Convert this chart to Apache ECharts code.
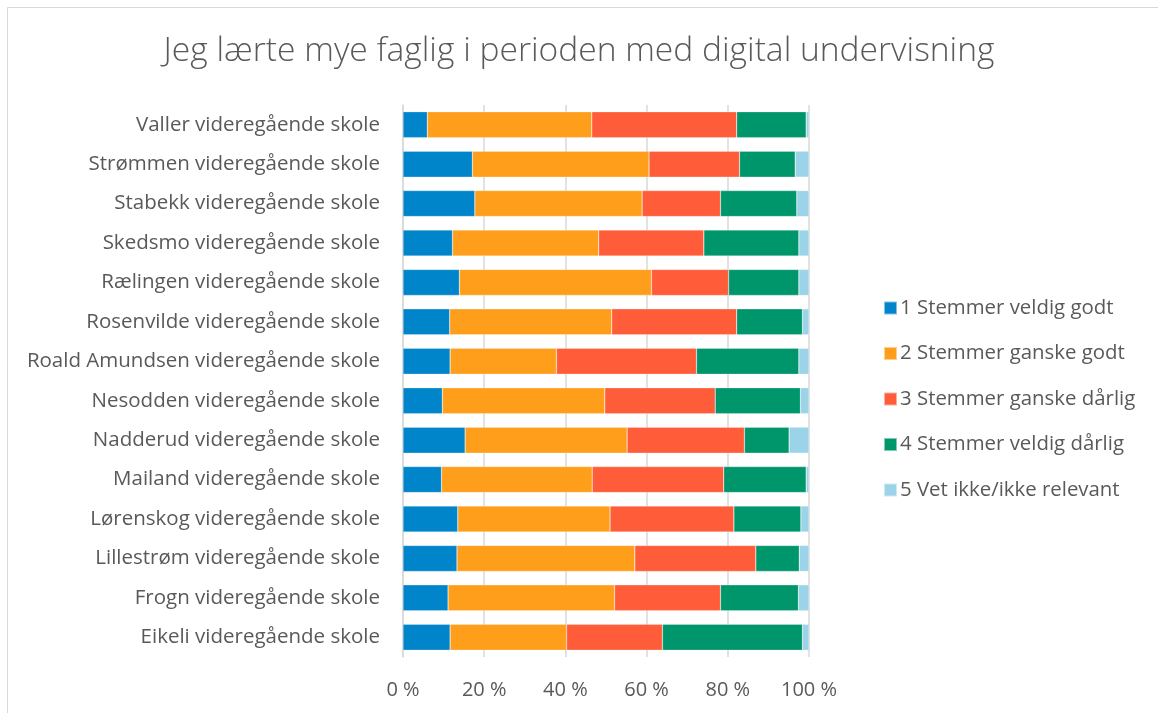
<!DOCTYPE html>
<html>
<head>
<meta charset="utf-8">
<script src="https://cdn.jsdelivr.net/npm/echarts@6/dist/echarts.min.js"></script>
<style>
  html, body { margin: 0; padding: 0; background: #fff; }
  #chart { width: 1158px; height: 713px; }
</style>
</head>
<body>
<div id="chart"></div>
<script>
// skoler, fra topp til bunn
const schools = [
  'Valler videregående skole',
  'Strømmen videregående skole',
  'Stabekk videregående skole',
  'Skedsmo videregående skole',
  'Rælingen videregående skole',
  'Rosenvilde videregående skole',
  'Roald Amundsen videregående skole',
  'Nesodden videregående skole',
  'Nadderud videregående skole',
  'Mailand videregående skole',
  'Lørenskog videregående skole',
  'Lillestrøm videregående skole',
  'Frogn videregående skole',
  'Eikeli videregående skole'
]

const seriesNames = [
  '1 Stemmer veldig godt',
  '2 Stemmer ganske godt',
  '3 Stemmer ganske dårlig',
  '4 Stemmer veldig dårlig',
  '5 Vet ikke/ikke relevant'
]

// andel i prosent per svaralternativ
const veldigGodt = [6.0, 17.1, 17.7, 12.2, 13.9, 11.5, 11.6, 9.7, 15.3, 9.5, 13.5, 13.3, 11.1, 11.6]
const ganskeGodt = [40.5, 43.5, 41.2, 36.0, 47.3, 39.9, 26.2, 40.0, 39.9, 37.1, 37.5, 43.8, 41.0, 28.7]
const ganskeDarlig = [35.7, 22.3, 19.3, 25.9, 19.0, 30.8, 34.5, 27.2, 28.9, 32.4, 30.5, 29.8, 26.1, 23.6]
const veldigDarlig = [17.1, 13.7, 18.8, 23.4, 17.3, 16.2, 25.2, 21.0, 11.0, 20.3, 16.5, 10.7, 19.2, 34.5]
const vetIkke = [0.7, 3.4, 3.0, 2.5, 2.5, 1.6, 2.5, 2.1, 4.9, 0.7, 2.0, 2.4, 2.6, 1.6]

const xTicks = [0, 20, 40, 60, 80, 100]

const colors = ['#0085CA', '#FF9E1B', '#FF5C39', '#00966C', '#9BD3E8']
const allData = [veldigGodt, ganskeGodt, ganskeDarlig, veldigDarlig, vetIkke]
const fontFamily = '"Open Sans", "Noto Sans", sans-serif'
const textColor = '#595959'

const chart = echarts.init(document.getElementById('chart'))

chart.setOption({
  backgroundColor: '#fff',
  animation: false,
  color: colors,
  textStyle: { fontFamily: fontFamily },
  title: {
    text: 'Jeg lærte mye faglig i perioden med digital undervisning',
    left: 'center',
    top: 29,
    textStyle: { fontSize: 33.6, fontWeight: 300, color: textColor, fontFamily: fontFamily }
  },
  graphic: [{
    type: 'rect',
    shape: { x: 7.5, y: 7.5, width: 1200, height: 800 },
    style: { fill: 'none', stroke: '#d9d9d9', lineWidth: 1 },
    silent: true
  }],
  legend: {
    orient: 'vertical',
    left: 878,
    top: 293,
    itemGap: 25.5,
    itemWidth: 13,
    itemHeight: 13,
    icon: 'rect',
    data: seriesNames,
    textStyle: { fontSize: 20.4, color: textColor, fontFamily: fontFamily, padding: [0, 0, 0, -2] }
  },
  grid: { left: 403, right: 349, top: 105, bottom: 56 },
  xAxis: {
    type: 'value',
    min: xTicks[0],
    max: xTicks[xTicks.length - 1],
    interval: 20,
    axisLine: { show: false },
    axisTick: { show: false },
    splitLine: { show: true, lineStyle: { color: '#d9d9d9', width: 1.5 } },
    axisLabel: {
      formatter: v => v + ' %',
      fontSize: 20,
      color: textColor,
      margin: 23
    }
  },
  yAxis: {
    type: 'category',
    inverse: true,
    data: schools,
    axisLine: { show: true, lineStyle: { color: '#d9d9d9', width: 1.5 } },
    axisTick: { show: false },
    axisLabel: { fontSize: 20.5, color: textColor, margin: 23 }
  },
  series: seriesNames.map((name, i) => ({
    name: name,
    type: 'bar',
    stack: 'total',
    barWidth: 26,
    data: allData[i],
    itemStyle: { borderColor: 'rgba(255,255,255,0.5)', borderWidth: 0.5 }
  }))
})
</script>
</body>
</html>
